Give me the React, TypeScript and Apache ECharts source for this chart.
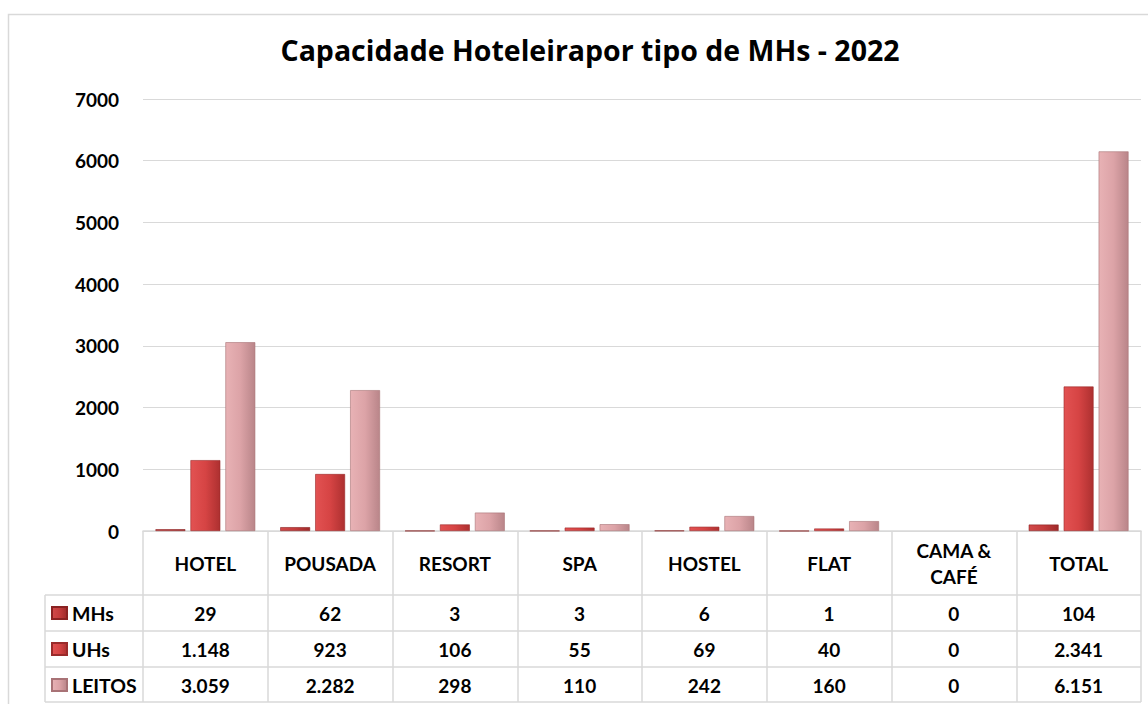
import React, { useEffect, useRef } from "react";
import * as echarts from "echarts";

const categories = ["HOTEL", "POUSADA", "RESORT", "SPA", "HOSTEL", "FLAT", "CAMA &\nCAFÉ", "TOTAL"];
const seriesNames = ["MHs", "UHs", "LEITOS"];
const mhs = [29, 62, 3, 3, 6, 1, 0, 104];
const uhs = [1148, 923, 106, 55, 69, 40, 0, 2341];
const leitos = [3059, 2282, 298, 110, 242, 160, 0, 6151];
const yTicks = { min: 0, max: 7000, interval: 1000 };
const titleText = "Capacidade Hoteleirapor tipo de MHs - 2022";

const fmt = (n: number) => String(n).replace(/\B(?=(\d{3})+(?!\d))/g, ".");

const FONT = "Lato, 'Open Sans', sans-serif";
const TITLE_FONT = "'Open Sans', Lato, sans-serif";
const FS = 19;
const GRID_LEFT = 143;
const GRID_RIGHT_X = 1141;
const AXIS_Y = 531;
const LINE = "#d9d9d9";

const grad = (a: string, b: string, c: string) =>
  new echarts.graphic.LinearGradient(0, 0, 1, 0, [
    { offset: 0, color: a },
    { offset: 0.5, color: b },
    { offset: 1, color: c },
  ]);

export default function App() {
  const ref = useRef<HTMLDivElement>(null);
  useEffect(() => {
    if (!ref.current) return;
    const chart = echarts.init(ref.current, null, { renderer: "svg" });
    const colors = [
      grad("#d24a4a", "#c43c3c", "#9e2a2a"),
      grad("#e25252", "#d64444", "#ad3030"),
      grad("#e8b2b5", "#dca3a7", "#b98589"),
    ];
    const borders = ["#8a2222", "#9a2a2a", "#a87276"];
    const values = [mhs, uhs, leitos];
    const rowOffsets = [64, 100, 136];
    const rowCenters = [613, 649, 685];
    const hLines = [595, 631, 667, 702];

    const xBase = {
      type: "category",
      data: categories,
      position: "bottom",
    };
    const txt = { fontFamily: FONT, fontSize: FS, fontWeight: "bold", color: "#000" };

    chart.setOption({
      animation: false,
      backgroundColor: "#ffffff",
      title: {
        text: titleText,
        left: 585,
        textAlign: "center",
        top: 30,
        textStyle: { fontFamily: TITLE_FONT, fontSize: 28.5, fontWeight: "bold", color: "#000" },
      },
      legend: seriesNames.map((name, i) => ({
        orient: "vertical",
        left: 51,
        top: rowCenters[i] - 10,
        padding: 0,
        itemWidth: 15,
        itemHeight: 12,
        itemGap: 5,
        icon: "rect",
        data: [name],
        textStyle: { ...txt, fontSize: 19.5, padding: 0 },
      })),
      grid: { left: GRID_LEFT, right: 1148 - GRID_RIGHT_X, top: 99, bottom: 704 - AXIS_Y },
      yAxis: {
        type: "value",
        min: yTicks.min,
        max: yTicks.max,
        interval: yTicks.interval,
        axisLine: { show: false },
        axisTick: { show: false },
        splitLine: { lineStyle: { color: LINE, width: 1 } },
        axisLabel: { ...txt, margin: 24, formatter: (v: number) => String(v) },
      },
      xAxis: [
        {
          ...xBase,
          axisLine: { show: true, lineStyle: { color: LINE, width: 1.5 } },
          axisTick: { show: true, interval: 0, length: 702 - AXIS_Y, lineStyle: { color: LINE, width: 1.5 } },
          axisLabel: {
            ...txt,
            interval: 0,
            margin: 32,
            verticalAlign: "middle",
            lineHeight: 26,
          },
        },
        ...values.map((vals, i) => ({
          ...xBase,
          offset: rowOffsets[i],
          axisLine: { show: false },
          axisTick: { show: false },
          axisLabel: {
            ...txt,
            interval: 0,
            margin: 18,
            verticalAlign: "middle",
            formatter: (_v: string, idx: number) => fmt(vals[idx]),
          },
        })),
      ],
      series: values.map((vals, i) => ({
        name: seriesNames[i],
        type: "bar",
        xAxisIndex: 0,
        data: vals.map((v) => (v === 0 ? { value: v, itemStyle: { borderWidth: 0, opacity: 0 } } : v)),
        barGap: "17%",
        barCategoryGap: "20%",
        itemStyle: { color: colors[i], borderColor: borders[i], borderWidth: 0.6 },
      })),
      graphic: [
        {
          type: "rect",
          shape: { x: 8.5, y: 14.5, width: 1145, height: 720 },
          style: { fill: "none", stroke: LINE, lineWidth: 1.5 },
          silent: true,
        },
        ...hLines.map((y) => ({
          type: "line",
          shape: { x1: 45, y1: y, x2: GRID_RIGHT_X, y2: y },
          style: { stroke: LINE, lineWidth: 1.5 },
          silent: true,
        })),
        {
          type: "line",
          shape: { x1: 45, y1: 595, x2: 45, y2: 702 },
          style: { stroke: LINE, lineWidth: 1.5 },
          silent: true,
        },
      ],
    });
    return () => chart.dispose();
  }, []);
  return (
    <div
      ref={ref}
      style={{ position: "absolute", left: 0, top: 0, width: 1148, height: 704 }}
    />
  );
}
